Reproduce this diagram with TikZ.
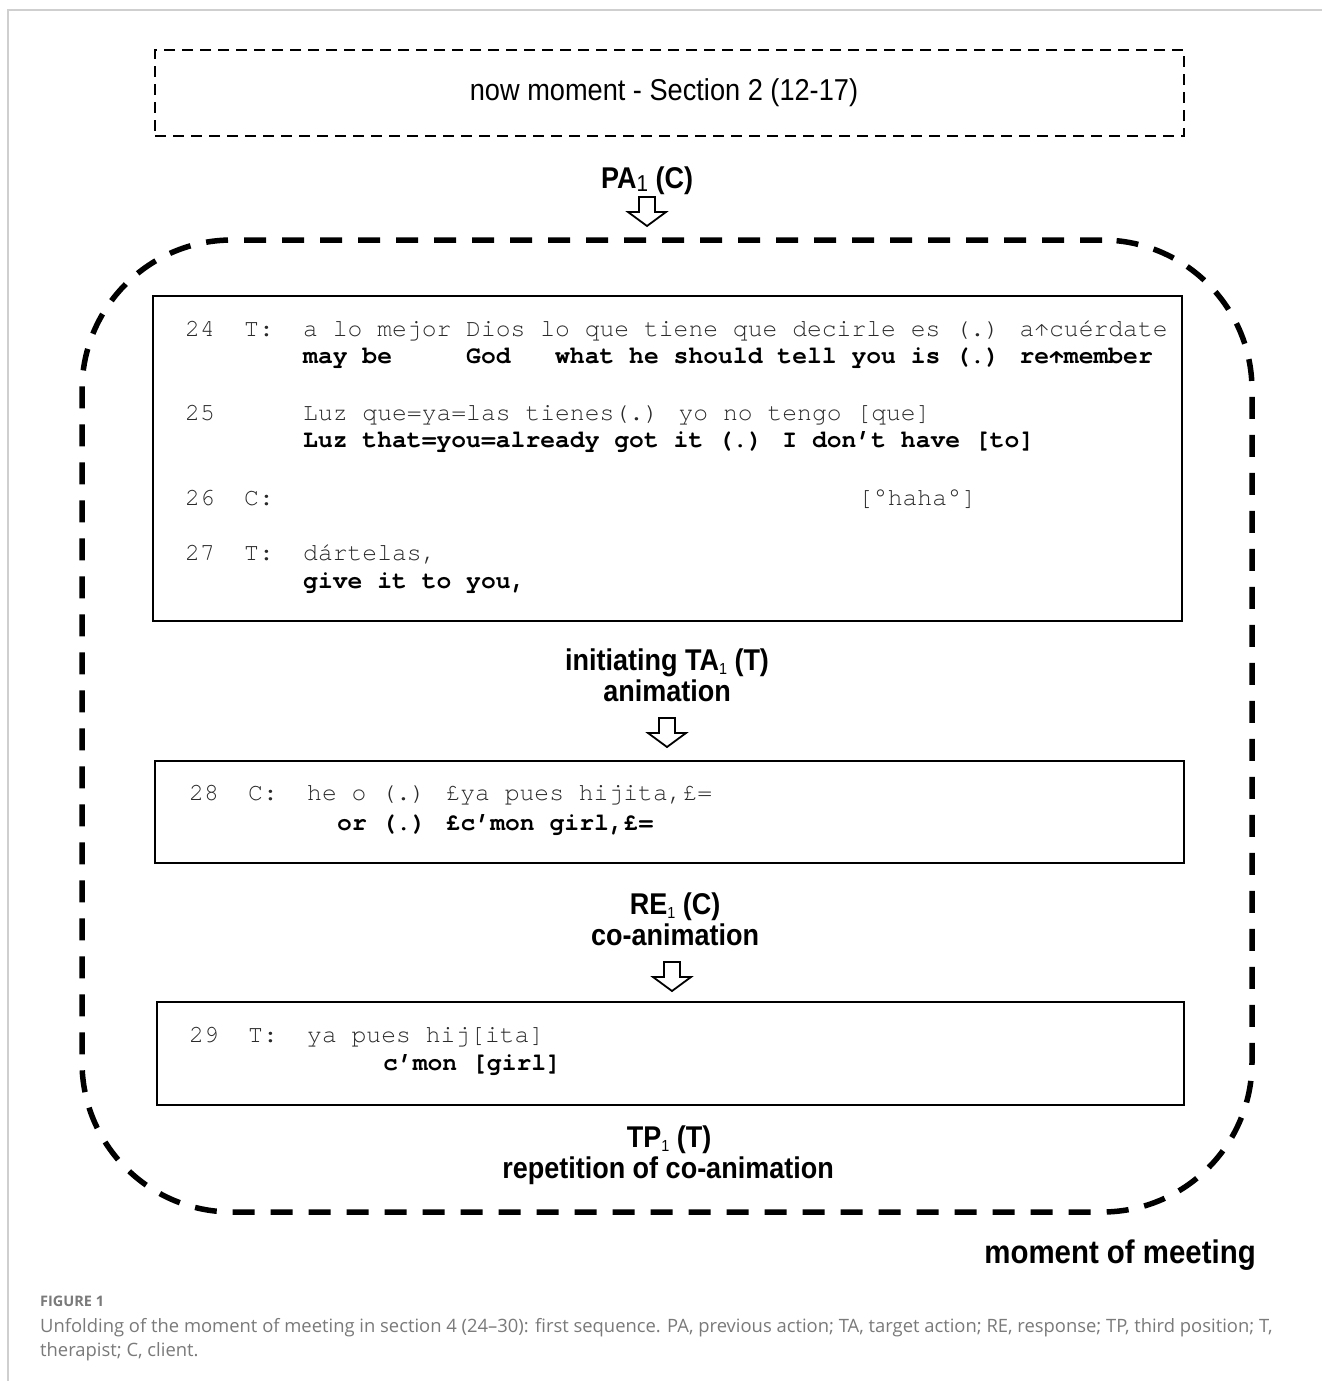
\documentclass[tikz,border=0pt]{standalone}
\usepackage{fontspec}
\setmainfont{Liberation Sans}
\newfontfamily\monofont{TeX Gyre Cursor}
\newfontfamily\capfont{Open Sans}
\newcommand\cond[1]{\scalebox{0.9}[1]{#1}}
\newcommand\subone{\raisebox{-0.14em}{\mdseries\fontsize{16}{16}\selectfont 1}}
\definecolor{framegray}{HTML}{CFCFCF}
\definecolor{capgray}{HTML}{7A7A7A}
\definecolor{monogray}{HTML}{2A2A2A}
\begin{document}
\begin{tikzpicture}[x=1pt,y=-1pt,
  mono/.style={font=\monofont\fontsize{24.7}{26}\selectfont, anchor=base west, inner sep=0pt, text=monogray},
  monob/.style={font=\monofont\bfseries\fontsize{24.7}{26}\selectfont, anchor=base west, inner sep=0pt, text=black},
  lab/.style={font=\bfseries\fontsize{30}{30}\selectfont, anchor=base, inner sep=0pt},
  tbox/.style={draw, line width=2.2pt, inner sep=0pt},
  downarrow/.pic={\draw[line width=1.8pt, line join=miter, fill=white] (-8,0) -- (-8,15) -- (-19,15) -- (0,29) -- (19,15) -- (8,15) -- (8,0) -- cycle;}
]
\useasboundingbox (0,0) rectangle (1322,1381);
\fill[white] (0,0) rectangle (1322,1381);
\draw[framegray, line width=1.6pt] (1322,10) -- (8,10) -- (8,1381);

% now moment box
\node[draw, line width=2.2pt, dash pattern=on 11pt off 7pt, minimum width=1029pt, minimum height=86pt, inner sep=0pt] (nowbox) at (669.5,93) {};
\node[font=\fontsize{30.2}{30}\selectfont, anchor=base, inner sep=0pt] (nowtxt) at (664,100) {\cond{now moment - Section 2 (12-17)}};

% PA label and arrow
\node[lab] (pa) at (647,188) {\cond{PA\raisebox{-0.1em}{\mdseries\fontsize{23}{23}\selectfont 1} (C)}};
\coordinate (a1) at (647,197);
\pic at (a1) {downarrow};

% moment of meeting rounded dashed frame
\node[draw, line width=5.5pt, dash pattern=on 22pt off 16pt, rounded corners=150pt, minimum width=1170pt, minimum height=972pt, inner sep=0pt] (meeting) at (667,726) {};

% Box 1
\node[tbox, minimum width=1029pt, minimum height=325pt] (box1) at (667.5,458.5) {};
\node[mono] (n24) at (185,336) {24};
\node[mono] (s24) at (244,336) {T:};
\node[mono] (t24) at (303,336) {a lo mejor Dios lo que tiene que decirle es (.) a↑cuérdate};
\node[monob] (b24) at (303,363) {may be\ \ \ \ \ God\ \ \ what he should tell you is (.) re↑member};
\node[mono] (n25) at (185,420) {25};
\node[mono] (t25) at (303,420) {Luz que=ya=las tienes(.) yo no tengo [que]};
\node[monob] (b25) at (303,447) {Luz that=you=already got it (.) I don’t have [to]};
\node[mono] (n26) at (185,505) {26};
\node[mono] (s26) at (244,505) {C:};
\node[mono] (t26) at (858,505) {[°haha°]};
\node[mono] (n27) at (185,560) {27};
\node[mono] (s27) at (244,560) {T:};
\node[mono] (t27) at (303,560) {dártelas,};
\node[monob] (b27) at (303,588) {give it to you,};

% TA label and arrow
\node[lab] (ta) at (667,670) {\cond{initiating TA\subone\ (T)}};
\node[lab] (anim) at (667,701) {\cond{animation}};
\coordinate (a2) at (667,718);
\pic at (a2) {downarrow};

% Box 2
\node[tbox, minimum width=1029pt, minimum height=102pt] (box2) at (669.5,812) {};
\node[mono] (n28) at (189,800) {28};
\node[mono] (s28) at (248,800) {C:};
\node[mono] (t28) at (307,800) {he o (.) £ya pues hijita,£=};
\node[monob] (b28) at (337,830) {or (.) £c’mon girl,£=};

% RE label and arrow
\node[lab] (re) at (675,914) {\cond{RE\subone\ (C)}};
\node[lab] (coanim) at (675,945) {\cond{co-animation}};
\coordinate (a3) at (672,962);
\pic at (a3) {downarrow};

% Box 3
\node[tbox, minimum width=1027pt, minimum height=103pt] (box3) at (670.5,1053.5) {};
\node[mono] (n29) at (189,1042) {29};
\node[mono] (s29) at (248,1042) {T:};
\node[mono] (t29) at (307,1042) {ya pues hij[ita]};
\node[monob] (b29) at (383,1070) {c’mon [girl]};

% TP label
\node[lab] (tp) at (669,1147) {\cond{TP\subone\ (T)}};
\node[lab] (rep) at (668,1178) {\cond{repetition of co-animation}};

% moment of meeting
\node[font=\bfseries\fontsize{32.7}{32}\selectfont, anchor=base east, inner sep=0pt] (mom) at (1256,1263) {\cond{moment of meeting}};

% caption
\node[font=\capfont\bfseries\fontsize{14.5}{14}\selectfont, text=capgray, anchor=base west, inner sep=0pt] (fig) at (40,1306) {FIGURE 1};
\node[font=\capfont\fontsize{18.4}{18}\selectfont, text=capgray, anchor=base west, inner sep=0pt] (cap1) at (40,1332) {Unfolding of the moment of meeting in section 4 (24–30): first sequence. PA, previous action; TA, target action; RE, response; TP, third position; T,};
\node[font=\capfont\fontsize{18.4}{18}\selectfont, text=capgray, anchor=base west, inner sep=0pt] (cap2) at (40,1356) {therapist; C, client.};
\end{tikzpicture}
\end{document}
